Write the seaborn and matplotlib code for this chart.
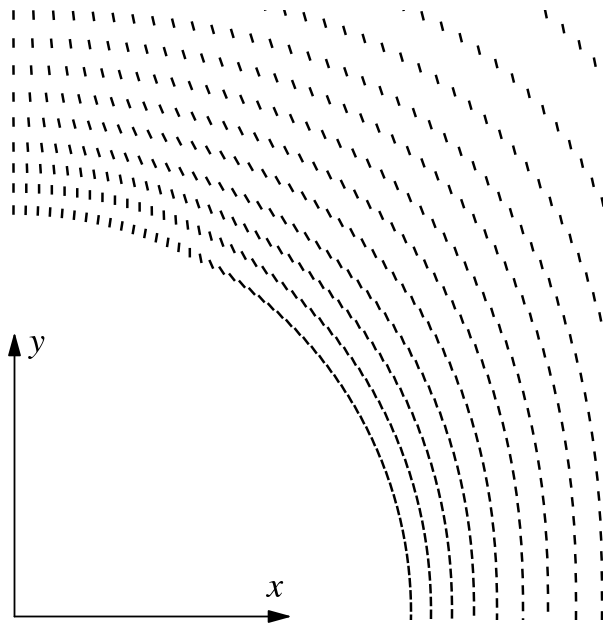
import numpy as np
import pandas as pd
import matplotlib
matplotlib.use("Agg")
import matplotlib.pyplot as plt
import seaborn as sns
from matplotlib.patches import Rectangle

# Layer curves (quarter superellipses about the core centre), innermost first
half_width = [401, 421, 442, 464, 487, 513, 538, 566, 592, 620, 652, 688]
half_height = [402, 424, 444, 465, 490, 515, 542, 569, 597, 626, 660, 698]
exponent = [2.0, 2.05, 2.12, 2.2, 2.3, 2.38, 2.45, 2.53, 2.6, 2.75, 2.95, 3.5]
dash_pitch = [12.2, 12.8, 13.5, 14.2, 15.2, 16.5, 17.8, 19.0, 20.0, 21.0, 22.0, 23.0]

# Director field parameters
CORE_R = 380.0       # core radius seen by the near field
FAR_R = 360.0        # effective radius for the far (tangential) field
DEFECT_DEG = 61.0    # surface defect: tangential below, normal above
BLEND_R = 455.0      # where the near field hands over to the far field
BLEND_W = 15.0
DASH_LEN = 9.5
FIRST_DASH = 3.5


def near_tilt(r, theta):
    """Harmonic field with tangential/normal anchoring split at the defect."""
    rho = np.minimum((CORE_R / r) ** 2, 0.985)
    w = 2.0 * np.radians(DEFECT_DEG)
    a1 = np.angle(1 - rho * np.exp(1j * (theta + w)))
    a2 = np.angle(1 - rho * np.exp(1j * (theta - w)))
    return 0.5 * (a1 + a2)


def far_tilt(r, theta):
    """Harmonic field with tangential anchoring everywhere on the core."""
    rho = (FAR_R / r) ** 2
    return np.angle(1 + rho * np.exp(1j * theta))


def director_tilt(x, y):
    """Tilt of the director from the vertical (radians, positive = '\\')."""
    r = np.hypot(x, y)
    theta = 2.0 * np.arctan2(y, x)
    wt = 1.0 / (1.0 + np.exp((r - BLEND_R) / BLEND_W))
    return wt * near_tilt(r, theta) + (1 - wt) * far_tilt(r, theta)


def layer_points(a, b, p, pitch):
    t = np.linspace(np.pi / 2, -0.06, 6000)
    c, s = np.cos(t), np.sin(t)
    x = a * np.abs(c) ** (2.0 / p)
    y = b * np.sign(s) * np.abs(s) ** (2.0 / p)
    arc = np.concatenate([[0.0], np.cumsum(np.hypot(np.diff(x), np.diff(y)))])
    sv = np.arange(FIRST_DASH, arc[-1], pitch)
    return np.interp(sv, arc, x), np.interp(sv, arc, y)


cx, cy = [], []
for a, b, p, g in zip(half_width, half_height, exponent, dash_pitch):
    px, py = layer_points(a, b, p, g)
    cx.append(px)
    cy.append(py)
cx = np.concatenate(cx)
cy = np.concatenate(cy)
psi = director_tilt(cx, cy)
dx = 0.5 * DASH_LEN * np.sin(psi)
dy = -0.5 * DASH_LEN * np.cos(psi)

n = len(cx)
dashes = pd.DataFrame({
    "seg": np.repeat(np.arange(n), 2),
    "x": np.column_stack([cx - dx, cx + dx]).ravel(),
    "y": np.column_stack([cy - dy, cy + dy]).ravel(),
})

sns.set_theme(style="white")
plt.rcParams["mathtext.fontset"] = "stix"
fig = plt.figure(figsize=(6.03, 6.25), dpi=100)
ax = fig.add_axes([0, 0, 1, 1])
sns.lineplot(data=dashes, x="x", y="y", units="seg", estimator=None, sort=False,
             color="black", lw=1.8, solid_capstyle="butt", legend=False, ax=ax)

clip = Rectangle((-8, -8), 601, 610, transform=ax.transData)
for ln in ax.lines:
    ln.set_clip_path(clip)

ax.set_xlim(-10, 593)
ax.set_ylim(-13, 612)
ax.set_axis_off()

origin = (4.5, -4.5)
arrow = dict(arrowstyle="-|>,head_length=0.8,head_width=0.22", mutation_scale=18,
             lw=1.3, color="black", shrinkA=0, shrinkB=0)
ax.annotate("", xy=(4.5, 280), xytext=origin, arrowprops=arrow)
ax.annotate("", xy=(282, -4.5), xytext=origin, arrowprops=arrow)
ax.text(27, 268, "$y$", fontsize=26, ha="center", va="center", color="black")
ax.text(266, 25, "$x$", fontsize=26, ha="center", va="center", color="black")

fig.savefig("out.png", dpi=100, facecolor="white")
